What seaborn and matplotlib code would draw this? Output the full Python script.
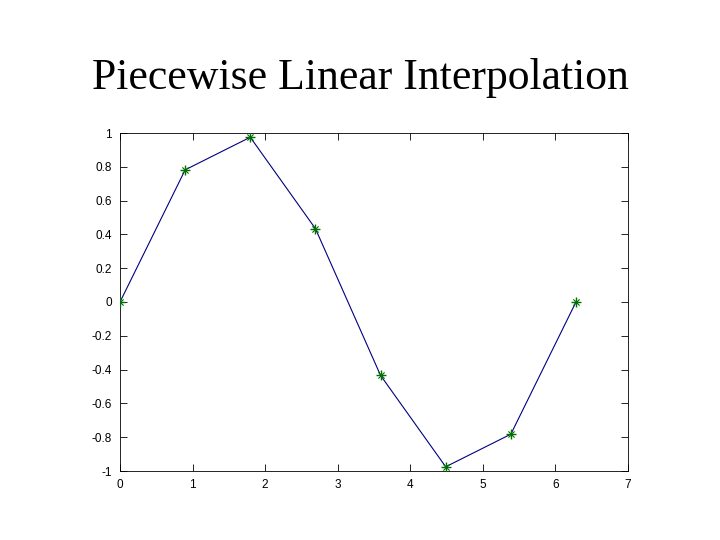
import matplotlib
matplotlib.use("Agg")
import matplotlib.pyplot as plt
import seaborn as sns
import pandas as pd

# sample points
x_vals = [0.0, 0.898, 1.795, 2.693, 3.590, 4.488, 5.386, 6.283]
y_vals = [0.0, 0.782, 0.975, 0.434, -0.434, -0.975, -0.782, 0.0]
x_ticks = [0, 1, 2, 3, 4, 5, 6, 7]
y_ticks = [-1, -0.8, -0.6, -0.4, -0.2, 0, 0.2, 0.4, 0.6, 0.8, 1]
y_labels = ["-1", "-0.8", "-0.6", "-0.4", "-0.2", "0", "0.2", "0.4", "0.6", "0.8", "1"]

df = pd.DataFrame({"x": x_vals, "y": y_vals})

sns.set_style("white")
plt.rcParams["font.family"] = ["Liberation Sans", "DejaVu Sans"]
plt.rcParams["text.color"] = "black"

fig = plt.figure(figsize=(7.2, 5.4), dpi=100)
ax = fig.add_axes([120 / 720, 1 - 471 / 540, 508 / 720, 338 / 540])

sns.lineplot(data=df, x="x", y="y", ax=ax, color="#000080", linewidth=0.8)
sns.scatterplot(data=df, x="x", y="y", ax=ax, marker="+", s=45, color="#007000",
                linewidth=1.0, zorder=3)
sns.scatterplot(data=df, x="x", y="y", ax=ax, marker="x", s=20, color="#007000",
                linewidth=0.8, zorder=3)

ax.set_xlim(0, 7)
ax.set_ylim(-1, 1)
ax.set_xticks(x_ticks)
ax.set_yticks(y_ticks)
ax.set_yticklabels(y_labels)
ax.set_xlabel("")
ax.set_ylabel("")
ax.tick_params(direction="in", length=5, width=0.6, labelsize=8.5, colors="black",
               top=True, right=True, bottom=True, left=True, pad=6)
for s in ax.spines.values():
    s.set_linewidth(0.6)
    s.set_color("black")

fig.text(0.5, 1 - 78 / 540, "Piecewise Linear Interpolation", ha="center", va="center",
         fontsize=31.5, color="black", family=["Liberation Serif", "DejaVu Serif"])

fig.savefig("out.png", dpi=100)
